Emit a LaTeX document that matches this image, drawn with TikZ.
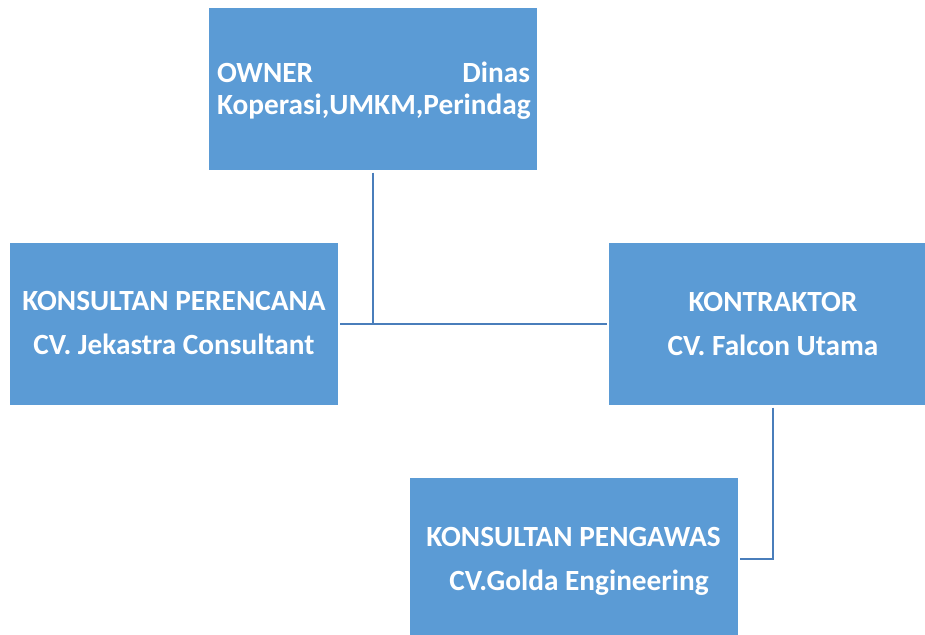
\documentclass[tikz,border=0pt]{standalone}
\usepackage{fontspec}
\setmainfont{Carlito}
\definecolor{boxblue}{HTML}{5B9BD5}
\definecolor{lineblue}{HTML}{4A7EBB}
\tikzset{
  orgbox/.style={rectangle, fill=boxblue, draw=none, inner sep=0pt, outer sep=2.5pt,
    minimum width=328pt, minimum height=162pt},
  orgtext/.style={text=white, font=\bfseries\fontsize{29.3}{44}\selectfont,
    align=center, anchor=base, inner sep=0pt},
  link/.style={lineblue, line width=2.6pt}
}
\begin{document}
\begin{tikzpicture}[x=1pt,y=-1pt]
  \useasboundingbox (0,0) rectangle (925,634);
  \begin{scope}
    \clip (0,0) rectangle (925,634);
    % boxes
    \node[orgbox] (owner) at (373,89) {};
    \node[orgbox] (perencana) at (173.5,324) {};
    \node[orgbox] (kontraktor) at (773,324) {};
    \node[orgbox] (pengawas) at (573.5,559) {};

    % texts (base = last line)
    \node[orgtext, text width=313pt, align=justify, font=\bfseries\fontsize{29.3}{32}\selectfont]
      (ownerlbl) at (373.5,82) {OWNER\hfill Dinas\\Koperasi,UMKM,Perindag};
    \node[orgtext] (perencanalbl) at (174,354) {KONSULTAN PERENCANA\\CV. Jekastra Consultant};
    \node[orgtext] (kontraktorlbl) at (773,355) {KONTRAKTOR\\CV. Falcon Utama};
    \node[orgtext] (pengawaslbl) at (573.5,590) {KONSULTAN PENGAWAS\\\hspace*{11pt}CV.Golda Engineering};

    % connectors
    \draw[link] (owner.south) -- (owner.south |- perencana.east);
    \draw[link] (perencana.east) -- (kontraktor.west);
    \draw[link] (kontraktor.south) |- (pengawas.east);
  \end{scope}
\end{tikzpicture}
\end{document}
